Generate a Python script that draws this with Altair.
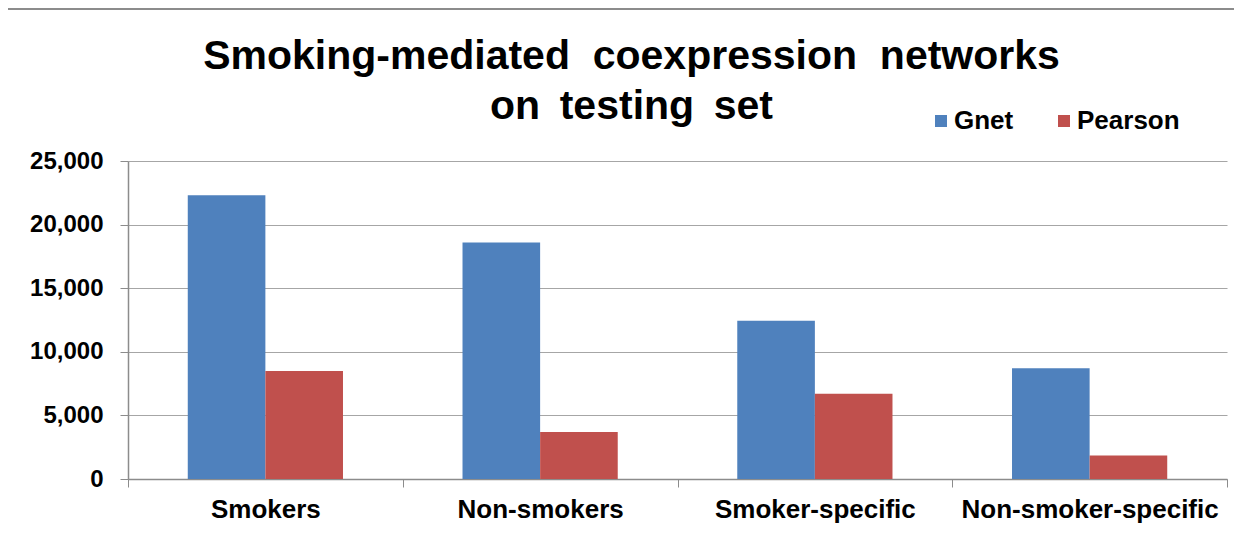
import altair as alt
import pandas as pd

categories = ["Smokers", "Non-smokers", "Smoker-specific", "Non-smoker-specific"]
gnet = [22300, 18600, 12450, 8700]
pearson = [8500, 3700, 6700, 1850]
series = ["Gnet", "Pearson"]
colors = ["#4F81BD", "#C0504D"]
y_ticks = [0, 5000, 10000, 15000, 20000, 25000]

rows = []
for c, g, p in zip(categories, gnet, pearson):
    rows.append({"category": c, "series": "Gnet", "value": g})
    rows.append({"category": c, "series": "Pearson", "value": p})
df = pd.DataFrame(rows)

FONT = "Liberation Sans"
W, H = 1099, 318
NB = "\u00a0"
THIN = "\u2009"

bars = alt.Chart(df).mark_bar().encode(
    x=alt.X("category:N", sort=categories,
            scale=alt.Scale(paddingInner=0, paddingOuter=0),
            axis=alt.Axis(title=None, labelAngle=0, labelFont=FONT, labelFontSize=26,
                          labelFontWeight="bold", labelColor="black", labelPadding=9,
                          labelLimit=500,
                          tickBand="extent", tickSize=8, tickColor="#8c8c8c",
                          domainColor="#8c8c8c", domainWidth=1.5, grid=False)),
    xOffset=alt.XOffset("series:N", sort=series,
                        scale=alt.Scale(paddingInner=0, paddingOuter=0.77)),
    y=alt.Y("value:Q", scale=alt.Scale(domain=[0, 25000], nice=False),
            axis=alt.Axis(title=None, values=y_ticks, format=",d", labelFont=FONT,
                          labelFontSize=24, labelFontWeight="bold", labelColor="black",
                          labelPadding=17, tickSize=8, tickColor="#8c8c8c",
                          domainColor="#8c8c8c", domainWidth=1.5,
                          gridColor="#a6a6a6", gridWidth=1.2)),
    color=alt.Color("series:N", sort=series,
                    scale=alt.Scale(domain=series, range=colors),
                    legend=alt.Legend(orient="none", legendX=800, legendY=-53,
                                      direction="horizontal", title=None,
                                      symbolType="square", symbolSize=144,
                                      symbolStrokeWidth=0, labelFont=FONT,
                                      labelFontSize=26, labelFontWeight="bold",
                                      labelColor="black", labelOffset=0,
                                      columnPadding=37, padding=0)),
)

frame = alt.Chart(pd.DataFrame({"a": [0]})).mark_rect(
    fillOpacity=0, stroke="#8c8c8c", strokeWidth=2
).encode(
    x=alt.value(-121), x2=alt.value(W + 40),
    y=alt.value(-152), y2=alt.value(H + 100),
)

title_lines = [
    "Smoking-mediated" + NB + " coexpression" + NB + " networks",
    "on" + THIN + " testing" + THIN + " set",
]

chart = alt.layer(frame, bars).properties(
    width=W, height=H,
    autosize=alt.AutoSizeParams(type="none"),
    padding={"left": 120, "top": 153, "right": 7, "bottom": 48},
    title=alt.TitleParams(
        text=title_lines,
        font=FONT, fontSize=41, fontWeight="bold", color="black",
        anchor="middle", frame="group", dx=-46, offset=-120, lineHeight=50,
    ),
).configure_view(stroke=None)

chart.save("out.html", embed_options={"renderer": "svg", "actions": False})
